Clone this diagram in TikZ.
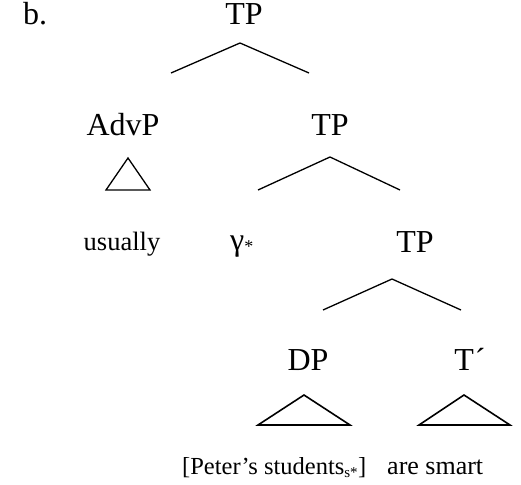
\documentclass[tikz,border=0pt]{standalone}
\usepackage{fontspec}
\setmainfont{Liberation Serif}
\tikzset{
  big/.style={inner sep=0pt, anchor=base, font=\fontsize{32}{36}\selectfont},
  small/.style={inner sep=0pt, anchor=base, font=\fontsize{26.5}{30}\selectfont},
  bottom/.style={inner sep=0pt, anchor=base west, font=\fontsize{24.5}{30}\selectfont},
  edge/.style={line width=1.3pt},
  roof/.style={line width=1.6pt, line join=miter}
}
\begin{document}
\begin{tikzpicture}[x=1pt,y=-1pt]
\useasboundingbox (0,0) rectangle (521,484);
\node[big] (lbl) at (35,25) {b.};
\node[big] (tp1) at (244,25) {TP};
\node[big] (advp) at (123,135) {AdvP};
\node[big] (tp2) at (330,135) {TP};
\node[small] (usually) at (122,250) {usually};
\node[big, anchor=base west] (gamma) at (230,250) {γ\raisebox{-2pt}{\fontsize{18}{20}\selectfont *}};
\node[big] (tp3) at (415,252) {TP};
\node[big] (dp) at (308,370) {DP};
\node[big] (tbar) at (470,370) {T\kern1pt\raisebox{0pt}{´}};
\node[bottom] (peter) at (182,474) {[Peter’s students\textsubscript{\fontsize{15}{18}\selectfont s*}]};
\node[bottom, font=\fontsize{26}{30}\selectfont] (smart) at (387,474) {are smart};
% roof 1
\coordinate (a1) at (240,43);
\coordinate (l1) at (171,73);
\coordinate (r1) at (309,73);
\draw[edge] (l1) -- (a1) -- (r1);
% advp triangle
\coordinate (t1a) at (128,158);
\coordinate (t1l) at (106,190);
\coordinate (t1r) at (150,190);
\draw[edge] (t1a) -- (t1l) -- (t1r) -- cycle;
% roof 2
\coordinate (a2) at (330,157);
\coordinate (l2) at (258,190);
\coordinate (r2) at (400,190);
\draw[edge] (l2) -- (a2) -- (r2);
% roof 3
\coordinate (a3) at (392,279);
\coordinate (l3) at (323,310);
\coordinate (r3) at (461,310);
\draw[edge] (l3) -- (a3) -- (r3);
% dp triangle
\coordinate (t2a) at (304,395);
\coordinate (t2l) at (258,425);
\coordinate (t2r) at (350,425);
\draw[roof] (t2a) -- (t2l) -- (t2r) -- cycle;
% tbar triangle
\coordinate (t3a) at (464,395);
\coordinate (t3l) at (419,425);
\coordinate (t3r) at (510,425);
\draw[roof] (t3a) -- (t3l) -- (t3r) -- cycle;
\end{tikzpicture}
\end{document}
